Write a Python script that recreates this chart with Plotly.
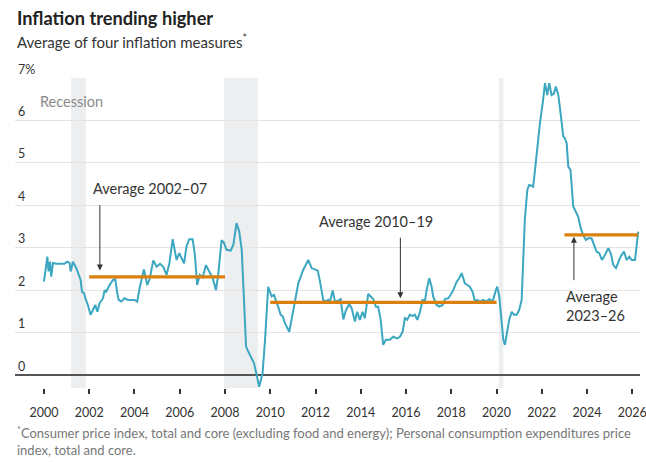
import plotly.graph_objects as go

# ---- data ----
years = [2000.00, 2000.15, 2000.20, 2000.27, 2000.32, 2000.40, 2000.55, 2000.90, 2001.03, 2001.13,
         2001.18, 2001.28, 2001.43, 2001.50, 2001.62, 2001.68, 2001.77, 2001.83, 2001.94, 2002.06,
         2002.17, 2002.27, 2002.36, 2002.46, 2002.61, 2002.68, 2002.75, 2002.90, 2003.05, 2003.15,
         2003.24, 2003.30, 2003.42, 2003.56, 2003.71, 2003.86, 2004.00, 2004.12, 2004.24, 2004.42,
         2004.56, 2004.68, 2004.83, 2004.98, 2005.13, 2005.27, 2005.42, 2005.54, 2005.69, 2005.79,
         2005.86, 2005.98, 2006.08, 2006.19, 2006.30, 2006.42, 2006.57, 2006.67, 2006.77, 2006.89,
         2007.01, 2007.16, 2007.30, 2007.45, 2007.60, 2007.70, 2007.85, 2007.95, 2008.07, 2008.25,
         2008.37, 2008.51, 2008.63, 2008.74, 2008.84, 2008.93, 2009.03, 2009.18, 2009.28, 2009.40,
         2009.51, 2009.66, 2009.77, 2009.91, 2010.06, 2010.16, 2010.25, 2010.35, 2010.46, 2010.55,
         2010.65, 2010.84, 2011.02, 2011.24, 2011.46, 2011.68, 2011.83, 2012.10, 2012.20, 2012.34,
         2012.46, 2012.56, 2012.64, 2012.76, 2012.86, 2013.00, 2013.11, 2013.23, 2013.34, 2013.49,
         2013.60, 2013.74, 2013.84, 2013.96, 2014.08, 2014.18, 2014.33, 2014.43, 2014.55, 2014.67,
         2014.77, 2014.88, 2014.99, 2015.11, 2015.29, 2015.43, 2015.61, 2015.73, 2015.85, 2015.95,
         2016.05, 2016.17, 2016.29, 2016.39, 2016.50, 2016.62, 2016.73, 2016.84, 2016.91, 2017.03,
         2017.13, 2017.20, 2017.35, 2017.47, 2017.62, 2017.72, 2017.87, 2017.97, 2018.09, 2018.24,
         2018.35, 2018.46, 2018.60, 2018.71, 2018.82, 2018.94, 2019.05, 2019.15, 2019.27, 2019.41,
         2019.56, 2019.68, 2019.83, 2019.97, 2020.03, 2020.12, 2020.22, 2020.30, 2020.37, 2020.47,
         2020.56, 2020.67, 2020.77, 2020.89, 2021.00, 2021.11, 2021.18, 2021.25, 2021.36, 2021.44,
         2021.55, 2021.62, 2021.70, 2021.80, 2021.92, 2022.04, 2022.14, 2022.24, 2022.33, 2022.43,
         2022.54, 2022.62, 2022.73, 2022.83, 2022.95, 2023.02, 2023.10, 2023.17, 2023.27, 2023.39,
         2023.51, 2023.61, 2023.72, 2023.83, 2023.95, 2024.05, 2024.20, 2024.30, 2024.42, 2024.54,
         2024.66, 2024.79, 2024.94, 2025.05, 2025.16, 2025.28, 2025.38, 2025.48, 2025.63, 2025.75,
         2025.87, 2025.97, 2026.12, 2026.22, 2026.26]

inflation = [2.20, 2.79, 2.44, 2.67, 2.32, 2.64, 2.62, 2.62, 2.67, 2.64,
             2.44, 2.67, 2.52, 2.40, 2.24, 1.96, 1.93, 1.81, 1.65, 1.42,
             1.53, 1.65, 1.49, 1.69, 1.81, 2.00, 1.96, 2.12, 2.24, 2.26,
             1.93, 1.77, 1.73, 1.81, 1.77, 1.77, 1.77, 1.73, 2.08, 2.49,
             2.12, 2.28, 2.70, 2.55, 2.62, 2.55, 2.36, 2.63, 3.20, 2.91,
             2.71, 2.87, 2.75, 2.63, 3.03, 3.20, 3.20, 2.83, 2.12, 2.36,
             2.30, 2.59, 2.44, 2.30, 2.00, 2.36, 3.18, 3.12, 2.95, 2.93,
             3.07, 3.58, 3.38, 2.95, 1.77, 0.67, 0.55, 0.39, 0.28, 0.00,
             -0.28, 0.04, 0.83, 2.08, 1.85, 1.89, 1.77, 1.61, 1.42, 1.38,
             1.22, 1.02, 1.53, 2.16, 2.48, 2.71, 2.52, 2.46, 2.20, 1.77,
             1.73, 1.77, 1.73, 1.99, 1.73, 1.75, 1.79, 1.31, 1.52, 1.67,
             1.57, 1.26, 1.49, 1.30, 1.49, 1.34, 1.91, 1.85, 1.79, 1.61,
             1.61, 1.30, 0.71, 0.83, 0.83, 0.90, 0.86, 0.90, 1.02, 1.34,
             1.30, 1.42, 1.39, 1.42, 1.30, 1.49, 1.77, 1.75, 2.00, 2.28,
             2.08, 1.85, 1.65, 1.61, 1.65, 1.79, 1.81, 1.89, 2.00, 2.20,
             2.28, 2.40, 2.16, 2.12, 2.08, 1.96, 1.73, 1.77, 1.73, 1.77,
             1.73, 1.79, 1.73, 2.00, 2.08, 1.85, 1.22, 0.83, 0.71, 0.98,
             1.30, 1.49, 1.42, 1.42, 1.53, 1.77, 2.71, 3.66, 4.36, 4.48,
             4.46, 4.44, 4.83, 5.38, 5.94, 6.41, 6.88, 6.60, 6.88, 6.60,
             6.64, 6.80, 6.60, 6.17, 5.62, 5.58, 5.46, 4.91, 4.83, 3.97,
             3.85, 3.73, 3.46, 3.30, 3.18, 3.22, 3.22, 3.07, 2.91, 2.87,
             2.71, 2.83, 2.99, 2.87, 2.59, 2.52, 2.67, 2.79, 2.91, 2.71,
             2.79, 2.71, 2.71, 3.26, 3.38]

# period averages: (start, end, value)
avg_start = [2002.0, 2010.0, 2023.0]
avg_end = [2008.0, 2020.0, 2026.25]
avg_value = [2.31, 1.71, 3.30]
avg_labels = ["Average 2002–07", "Average 2010–19", "Average<br>2023–26"]

# recessions
rec_start = [2001.2, 2007.95, 2020.1]
rec_end = [2001.85, 2009.45, 2020.3]

x_ticks = list(range(2000, 2027, 2))
y_ticks = [0, 1, 2, 3, 4, 5, 6, 7]
y_ticktext = ["0", "1", "2", "3", "4", "5", "6", "7%"]

TEAL = "#3ba7c0"
ORANGE = "#d9800e"
FONT = "Lato"

fig = go.Figure()

for s, e in zip(rec_start, rec_end):
    fig.add_shape(type="rect", xref="x", yref="paper", x0=s, x1=e, y0=0, y1=1,
                  fillcolor="#eceef0", line_width=0, layer="below")

fig.add_trace(go.Scatter(x=years, y=inflation, mode="lines",
                         line=dict(color=TEAL, width=2), hoverinfo="skip"))

for s, e, v in zip(avg_start, avg_end, avg_value):
    fig.add_trace(go.Scatter(x=[s, e], y=[v, v], mode="lines",
                             line=dict(color=ORANGE, width=3.2), hoverinfo="skip"))

ann = []
# arrows
ann.append(dict(x=2002.47, y=2.46, ax=0, ay=-67, xref="x", yref="y", showarrow=True,
                arrowhead=2, arrowsize=1.2, arrowwidth=1, arrowcolor="#333", text=""))
ann.append(dict(x=2015.75, y=1.81, ax=0, ay=-62, xref="x", yref="y", showarrow=True,
                arrowhead=2, arrowsize=1.2, arrowwidth=1, arrowcolor="#333", text=""))
ann.append(dict(x=2023.42, y=3.26, ax=0, ay=45, xref="x", yref="y", showarrow=True,
                arrowhead=2, arrowsize=1.2, arrowwidth=1, arrowcolor="#333", text=""))
# labels
ann.append(dict(x=2002.1, y=4.39, xref="x", yref="y", text=avg_labels[0], showarrow=False,
                xanchor="left", yanchor="middle", font=dict(family=FONT, size=14.5, color="#333")))
ann.append(dict(x=2014.67, y=3.61, xref="x", yref="y", text=avg_labels[1], showarrow=False,
                xanchor="center", yanchor="middle", font=dict(family=FONT, size=14.5, color="#333")))
ann.append(dict(x=2023.0, y=1.62, xref="x", yref="y", text=avg_labels[2], showarrow=False,
                xanchor="left", yanchor="middle", align="left",
                font=dict(family=FONT, size=14.5, color="#333")))
ann.append(dict(x=1999.73, y=6.44, xref="x", yref="y", text="Recession", showarrow=False,
                xanchor="left", yanchor="middle", font=dict(family=FONT, size=14.5, color="#8a8a8a")))
# titles
ann.append(dict(x=15, y=462 - 18, xref="paper", yref="paper", text="<b>Inflation trending higher</b>",
                showarrow=False, xanchor="left", yanchor="middle",
                font=dict(family=FONT, size=18.2, color="#222")))
ann.append(dict(x=15, y=462 - 42, xref="paper", yref="paper",
                text="Average of four inflation measures<sup>*</sup>",
                showarrow=False, xanchor="left", yanchor="middle",
                font=dict(family=FONT, size=15, color="#333")))
ann.append(dict(x=15, y=462 - 441, xref="paper", yref="paper", align="left",
                text="<sup>*</sup>Consumer price index, total and core (excluding food and energy); Personal consumption expenditures price<br>index, total and core.",
                showarrow=False, xanchor="left", yanchor="middle",
                font=dict(family=FONT, size=13, color="#777")))

# convert paper pixel positions for title annotations
W, H = 646, 462
ML, MR, MT, MB = 15, 6, 78, 74
pw, ph = W - ML - MR, H - MT - MB
for a in ann:
    if a.get("xref") == "paper":
        a["x"] = (a["x"] - ML) / pw
        a["y"] = (a["y"] - MB) / ph

fig.update_layout(
    width=W, height=H,
    margin=dict(l=ML, r=MR, t=MT, b=MB, autoexpand=False),
    paper_bgcolor="white", plot_bgcolor="white",
    showlegend=False,
    annotations=ann,
    font=dict(family=FONT, color="#333"),
    xaxis=dict(range=[1998.72, 2026.34], tickvals=x_ticks, ticktext=[str(t) for t in x_ticks],
               showgrid=False, zeroline=False, showline=False, automargin=False,
               ticks="outside", ticklen=5, tickwidth=1.5, tickcolor="#333",
               ticklabelstandoff=8, ticklabeloverflow="allow",
               tickfont=dict(family=FONT, size=12.5, color="#333")),
    yaxis=dict(range=[-0.307, 7.0], tickvals=y_ticks, ticktext=y_ticktext,
               ticklabelposition="inside top", ticklabeloverflow="allow", automargin=False,
               showgrid=True, gridcolor="#e3e3e3", gridwidth=1,
               zeroline=True, zerolinecolor="#555", zerolinewidth=1.5,
               showline=False, ticks="",
               tickfont=dict(family=FONT, size=12.5, color="#333")),
)

fig.write_html("out.html", config={"displayModeBar": False})
